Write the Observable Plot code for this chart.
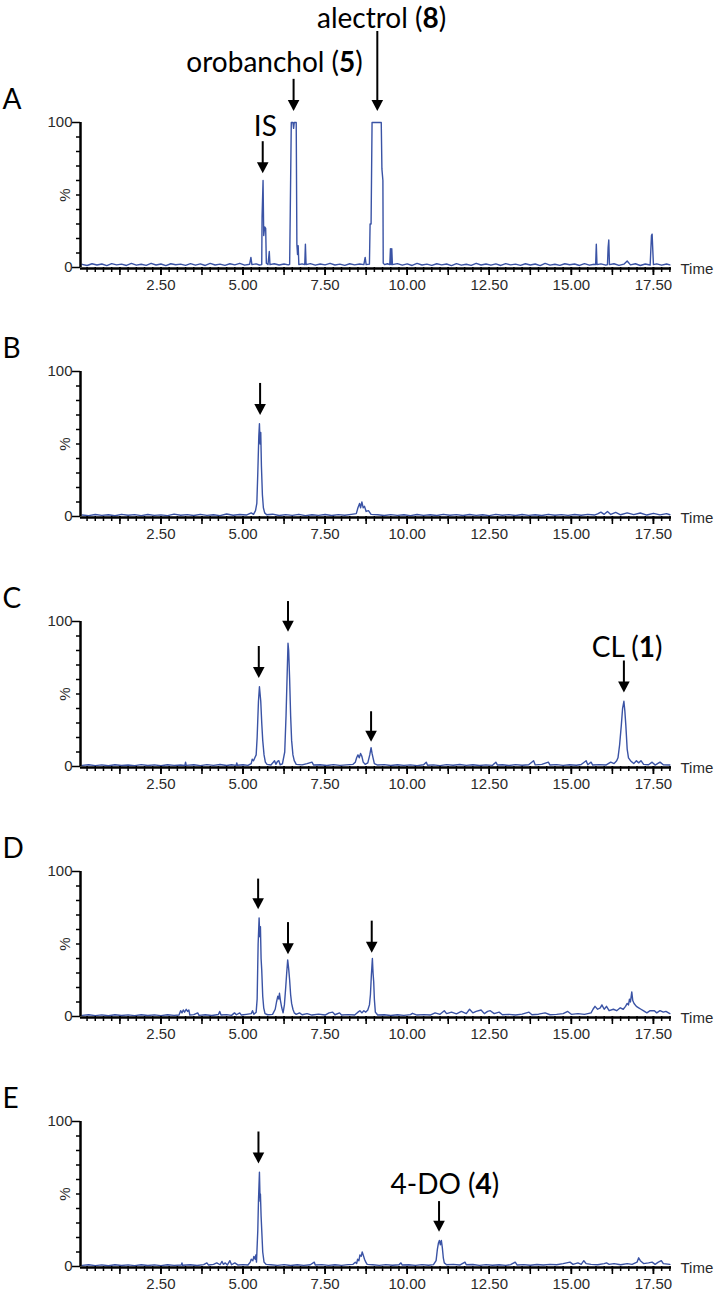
<!DOCTYPE html>
<html>
<head>
<meta charset="utf-8">
<script src="https://cdn.jsdelivr.net/npm/d3@7"></script>
<script src="https://cdn.jsdelivr.net/npm/@observablehq/plot@0.6"></script>
<style>
  html, body { margin: 0; padding: 0; background: #fff; overflow: hidden; }
  #chart svg { display: block; }
</style>
</head>
<body>
<div id="chart"></div>
<script>
// ---- Data (time in min, intensity in %) ----
const traceA = [[0.1,2.2],[0.25,1.4],[0.4,2.6],[0.55,1.7],[0.7,2.4],[0.85,1.3],[1.0,2.7],[1.15,1.8],[1.3,2.3],[1.45,1.4],[1.6,2.8],[1.75,1.6],[1.9,2.2],[2.05,1.5],[2.2,2.9],[2.35,1.7],[2.5,2.4],[2.65,1.3],[2.8,2.6],[2.95,1.9],[3.1,2.3],[3.25,1.5],[3.4,2.7],[3.55,1.6],[3.7,2.5],[3.85,1.4],[4.0,2.8],[4.15,1.7],[4.3,2.3],[4.45,1.5],[4.6,2.6],[4.75,1.8],[4.9,2.9],[5.05,1.6],[5.2,2.2],[5.24,7],[5.27,2],[5.4,2.5],[5.5,1.7],[5.57,2],[5.58,35],[5.61,60],[5.63,22],[5.66,28],[5.69,27],[5.71,3],[5.76,2],[5.8,11],[5.82,2],[5.95,2.6],[6.1,1.7],[6.25,2.4],[6.38,1.8],[6.42,2.2],[6.44,41],[6.47,100],[6.52,100],[6.54,96],[6.56,100],[6.62,100],[6.64,16],[6.66,9],[6.68,15],[6.7,2],[6.8,2.5],[6.88,2],[6.9,16],[6.92,2],[7.05,2.7],[7.2,1.6],[7.35,2.4],[7.5,1.8],[7.65,2.9],[7.8,1.7],[7.95,2.3],[8.1,1.5],[8.25,2.6],[8.4,1.8],[8.55,2.4],[8.68,2],[8.72,7],[8.75,2],[8.85,2.3],[8.87,30],[8.9,30],[8.93,100],[9.21,100],[9.23,68],[9.26,60],[9.27,3],[9.31,2],[9.4,2.6],[9.47,2],[9.49,13],[9.51,2],[9.53,13],[9.55,2],[9.7,2.7],[9.85,1.6],[10.0,2.5],[10.15,1.4],[10.3,2.8],[10.45,1.7],[10.6,2.3],[10.75,1.5],[10.9,2.6],[11.05,1.8],[11.2,2.4],[11.35,1.3],[11.5,2.7],[11.65,1.6],[11.8,2.2],[11.95,1.5],[12.1,2.9],[12.25,1.7],[12.4,2.4],[12.55,1.6],[12.7,2.5],[12.85,1.4],[13.0,2.7],[13.15,1.8],[13.3,2.3],[13.45,1.5],[13.6,2.6],[13.75,1.7],[13.9,2.4],[14.05,1.3],[14.2,2.8],[14.35,1.6],[14.5,2.2],[14.65,1.5],[14.8,2.6],[14.95,1.9],[15.1,2.4],[15.25,1.4],[15.4,2.7],[15.55,1.6],[15.7,2.2],[15.74,2],[15.76,16],[15.78,2],[15.9,2.5],[16.05,1.6],[16.1,2],[16.12,14],[16.14,19],[16.16,2],[16.3,2.6],[16.45,1.5],[16.6,2.3],[16.7,4.5],[16.8,1.8],[16.95,2.6],[17.1,1.4],[17.25,2.4],[17.4,1.7],[17.44,22],[17.46,23],[17.48,12],[17.5,2],[17.6,2.5],[17.75,1.6],[17.9,2.4],[18.0,1.8]];

const traceB = [[0.1,1],[0.3,0.6],[0.5,1.4],[0.7,0.8],[0.9,1.2],[1.1,0.5],[1.3,1.5],[1.5,0.9],[1.7,1.3],[1.9,0.6],[2.1,1.4],[2.3,0.8],[2.5,1.1],[2.7,0.6],[2.9,1.6],[3.1,0.9],[3.3,1.3],[3.5,0.7],[3.7,1.5],[3.9,0.8],[4.1,1.2],[4.3,0.6],[4.5,1.7],[4.7,0.9],[4.9,1.4],[5.1,1],[5.25,2.5],[5.32,1.5],[5.38,4],[5.42,9],[5.45,30],[5.48,55],[5.5,64],[5.52,50],[5.54,58],[5.56,35],[5.59,15],[5.62,6],[5.66,2.5],[5.72,1.2],[5.9,1.6],[6.1,0.7],[6.3,1.3],[6.5,0.8],[6.7,1.5],[6.9,0.6],[7.1,1.2],[7.3,0.8],[7.5,1.4],[7.7,0.7],[7.9,1.3],[8.1,0.9],[8.3,1.5],[8.45,2],[8.5,6],[8.55,9],[8.58,6],[8.62,10],[8.66,6],[8.7,7],[8.75,3.5],[8.82,4],[8.9,1.5],[9.1,1.2],[9.3,0.7],[9.5,1.3],[9.7,0.8],[9.9,1.2],[10.1,0.6],[10.3,1.4],[10.5,0.8],[10.7,1.2],[10.9,0.7],[11.1,1.5],[11.3,0.9],[11.5,1.3],[11.7,0.7],[11.9,1.4],[12.1,0.8],[12.3,1.2],[12.5,0.6],[12.7,1.5],[12.9,0.9],[13.1,1.3],[13.3,0.7],[13.5,1.4],[13.7,0.8],[13.9,1.2],[14.1,0.7],[14.3,1.5],[14.5,0.9],[14.7,1.3],[14.9,0.8],[15.1,1.4],[15.3,0.9],[15.5,1.5],[15.7,1],[15.8,1.8],[15.9,3],[16.0,1.5],[16.1,3.5],[16.2,1.4],[16.35,2.8],[16.5,1.2],[16.7,2.5],[16.9,1.3],[17.1,2.4],[17.3,1],[17.5,2.2],[17.7,1.1],[17.9,2],[18.0,1.2]];

const traceC = [[0.1,0.8],[0.3,1.2],[0.5,0.6],[0.7,1.1],[0.9,0.5],[1.1,1.2],[1.3,0.7],[1.5,1.0],[1.7,0.6],[1.9,1.3],[2.1,0.7],[2.3,1.1],[2.5,0.5],[2.7,1.2],[2.9,0.8],[3.1,1.0],[3.23,0.7],[3.25,3],[3.27,0.8],[3.5,1.2],[3.7,0.6],[3.9,1.3],[4.1,0.8],[4.3,1.4],[4.5,0.7],[4.65,1.2],[4.79,0.8],[4.81,2.5],[4.83,0.9],[5.0,1.2],[5.15,0.8],[5.25,2],[5.28,5],[5.32,4],[5.36,6],[5.4,8],[5.43,20],[5.47,45],[5.5,55],[5.52,50],[5.54,45],[5.57,30],[5.6,18],[5.64,8],[5.68,3],[5.73,1.5],[5.85,1],[5.96,4],[6.0,1.5],[6.05,3.5],[6.09,4],[6.13,1.2],[6.2,1.8],[6.27,10],[6.31,35],[6.34,60],[6.37,85],[6.39,80],[6.42,60],[6.45,35],[6.48,18],[6.52,8],[6.56,4],[6.62,1.5],[6.8,1.1],[6.95,2],[7.1,3],[7.15,1],[7.35,1.2],[7.55,0.7],[7.75,1.3],[7.95,0.8],[8.15,1.1],[8.35,1.5],[8.42,3],[8.46,6],[8.5,8],[8.54,6],[8.58,9],[8.62,7],[8.66,3],[8.72,1.5],[8.8,2.5],[8.86,8],[8.9,13],[8.93,9],[8.96,6],[9.0,2],[9.1,1],[9.3,1.3],[9.5,0.7],[9.7,1.2],[9.9,0.8],[10.1,1.1],[10.3,0.6],[10.5,1.2],[10.58,3],[10.62,0.9],[10.8,1.1],[11.0,0.6],[11.2,1.3],[11.4,0.9],[11.6,1.4],[11.8,0.8],[12.0,1.2],[12.2,0.7],[12.4,1.1],[12.6,0.8],[12.7,3],[12.75,1],[12.9,1.2],[13.1,0.7],[13.3,1.3],[13.5,0.9],[13.7,1.2],[13.85,4],[13.9,1.1],[14.1,1.5],[14.3,3],[14.35,1],[14.55,1.3],[14.75,0.8],[14.95,1.2],[15.15,0.9],[15.3,1.4],[15.45,4],[15.5,1.2],[15.6,3],[15.65,1],[15.85,1.3],[16.05,1],[16.2,3],[16.3,2],[16.38,4],[16.42,6],[16.47,15],[16.52,28],[16.56,40],[16.6,45],[16.63,38],[16.66,28],[16.7,12],[16.74,6],[16.8,4],[16.9,2],[16.98,4],[17.05,2.5],[17.12,4],[17.2,1.5],[17.35,1.2],[17.46,3],[17.55,1],[17.7,3],[17.8,1.2],[18.0,1]];

const traceD = [[0.1,0.8],[0.3,1.2],[0.5,0.6],[0.7,1.1],[0.9,0.5],[1.1,1.2],[1.3,0.7],[1.5,1.1],[1.7,0.6],[1.9,1.2],[2.1,0.7],[2.3,1.1],[2.5,0.6],[2.7,1.2],[2.9,0.8],[3.05,1],[3.1,4],[3.14,2.5],[3.18,4.5],[3.22,3],[3.27,5],[3.31,3.5],[3.35,4.5],[3.38,1],[3.5,1.3],[3.62,2.5],[3.66,0.8],[3.85,1.2],[4.05,0.7],[4.25,1.4],[4.29,3.5],[4.33,1],[4.5,1.3],[4.65,0.8],[4.74,2.5],[4.8,1.2],[4.9,2.5],[4.95,1],[5.1,1.5],[5.25,2],[5.29,4],[5.33,1.5],[5.4,3],[5.43,12],[5.46,50],[5.49,68],[5.51,55],[5.53,62],[5.55,40],[5.57,32],[5.6,14],[5.63,6],[5.67,2],[5.75,1.2],[5.9,1.5],[5.98,5],[6.02,10],[6.06,14],[6.09,12],[6.11,16],[6.14,11],[6.18,6],[6.22,2.5],[6.26,8],[6.3,20],[6.33,30],[6.36,39],[6.39,33],[6.42,25],[6.45,15],[6.48,9],[6.52,5],[6.56,2.5],[6.62,1.5],[6.72,2.5],[6.8,1.2],[6.95,2],[7.1,1],[7.3,1.6],[7.5,1],[7.62,2.5],[7.73,3],[7.8,1.2],[7.94,2.5],[8.0,1],[8.2,1.3],[8.4,1],[8.5,3],[8.56,4],[8.62,2.5],[8.68,4],[8.74,3],[8.8,4.5],[8.85,8],[8.88,15],[8.91,29],[8.94,40],[8.96,30],[8.98,24],[9.0,12],[9.03,3],[9.1,1],[9.3,1.2],[9.5,0.7],[9.7,1.2],[9.9,0.8],[10.1,1.3],[10.16,2.2],[10.3,1],[10.5,1.3],[10.7,1],[10.85,2.5],[11.0,1.5],[11.13,4],[11.2,2],[11.35,3],[11.5,1.8],[11.65,3.5],[11.8,2],[11.9,5],[12.0,2.5],[12.1,3.5],[12.25,4.5],[12.35,2],[12.45,3.5],[12.53,4],[12.65,2],[12.8,3],[12.9,1.2],[13.1,1.5],[13.3,1],[13.5,1.6],[13.71,3],[13.8,1.2],[14.0,1.6],[14.2,2.5],[14.35,1.2],[14.55,1.5],[14.75,2],[14.89,3.5],[15.0,1.5],[15.2,2],[15.4,1.5],[15.6,2.5],[15.66,5],[15.72,7],[15.8,5],[15.88,6],[15.93,8],[16.0,5],[16.07,7],[16.15,4],[16.28,5],[16.38,4],[16.49,6],[16.58,5],[16.65,7],[16.7,9],[16.74,8],[16.77,12],[16.8,10],[16.84,17],[16.87,11],[16.91,9],[16.98,7],[17.05,6],[17.12,5],[17.19,4],[17.3,2.5],[17.4,4],[17.53,4],[17.6,2.5],[17.7,4],[17.8,3],[17.88,3.5],[18.0,2]];

const traceE = [[0.1,0.8],[0.3,1.2],[0.5,0.6],[0.7,1.1],[0.9,0.5],[1.1,1.2],[1.3,0.7],[1.5,1.1],[1.7,0.6],[1.9,1.2],[2.1,0.7],[2.3,1.1],[2.5,0.6],[2.7,1.2],[2.9,0.8],[3.12,1],[3.14,2.5],[3.16,0.9],[3.4,1.2],[3.6,0.7],[3.8,1.3],[3.9,2.5],[3.95,1],[4.1,1.5],[4.2,2.5],[4.3,1.2],[4.36,3.5],[4.4,1.5],[4.46,2.5],[4.52,1],[4.6,4],[4.65,1.2],[4.75,2.5],[4.85,1],[5.0,1.3],[5.15,1],[5.22,3],[5.25,5],[5.3,4],[5.33,7],[5.37,5],[5.39,8],[5.41,3],[5.45,25],[5.47,45],[5.5,65],[5.52,45],[5.53,50],[5.55,35],[5.58,20],[5.6,10],[5.64,3],[5.7,1.5],[5.85,1.2],[6.05,0.8],[6.25,1.3],[6.45,0.7],[6.65,1.2],[6.85,0.8],[7.05,1.2],[7.17,3],[7.2,1],[7.4,1.3],[7.6,0.8],[7.8,1.2],[8.0,0.8],[8.2,1.3],[8.35,1.5],[8.42,3],[8.46,2],[8.49,5],[8.53,4],[8.56,8],[8.6,7],[8.63,10],[8.66,8],[8.7,5],[8.74,3],[8.78,1.5],[8.95,1.2],[9.15,0.8],[9.35,1.3],[9.55,0.9],[9.75,1.2],[9.81,2.5],[9.85,1],[10.05,1.2],[10.25,0.8],[10.45,1.3],[10.65,0.9],[10.8,1.3],[10.88,4],[10.92,12],[10.95,16],[10.98,18],[11.01,15],[11.04,18],[11.07,13],[11.1,6],[11.13,2.5],[11.2,1.2],[11.4,1.5],[11.6,1],[11.76,3],[11.8,1.2],[12.0,1.4],[12.2,0.8],[12.4,1.3],[12.6,0.9],[12.8,1.2],[13.0,0.8],[13.15,1.3],[13.29,3],[13.35,1],[13.55,1.3],[13.75,0.9],[13.95,1.4],[14.15,1],[14.35,1.5],[14.55,1.2],[14.75,2],[14.96,3],[15.05,1.5],[15.2,2.5],[15.3,1.5],[15.38,4],[15.45,2],[15.6,1.5],[15.8,1.2],[16.0,2],[16.07,2.5],[16.15,1.5],[16.3,2],[16.5,1.2],[16.7,2],[16.85,1.5],[17.0,3],[17.05,6],[17.1,4],[17.2,2],[17.35,2.5],[17.46,3],[17.55,1.5],[17.65,3],[17.74,4],[17.8,2],[18.0,1.5]];

// Arrows: time, shaft top (%), arrow tip (%)
const arrowsA = [{t:5.6, top:84, tip:65},{t:6.54, top:127, tip:108},{t:9.09, top:160, tip:108}];
const arrowsB = [{t:5.52, top:89, tip:70}];
const arrowsC = [{t:5.48, top:80, tip:61},{t:6.37, top:111, tip:93},{t:8.9, top:35, tip:17},{t:16.6, top:70, tip:51}];
const arrowsD = [{t:5.46, top:92, tip:74},{t:6.37, top:62, tip:43},{t:8.92, top:63, tip:44}];
const arrowsE = [{t:5.47, top:90, tip:71},{t:10.97, top:42, tip:24}];

// Peak labels: time, baseline (%), text
const labelsA = [{t:9.22, v:165.3, s:"alectrol (8)"},{t:5.96, v:134.5, s:"orobanchol (5)"},{t:5.68, v:91, s:"IS"}];
const labelsB = [];
const labelsC = [{t:16.7, v:75.5, s:"CL (1)"}];
const labelsD = [];
const labelsE = [{t:11.15, v:49.7, s:"4-DO (4)"}];

const panelLetters = ["A","B","C","D","E"];
const xLabelTicks = [2.5, 5, 7.5, 10, 12.5, 15, 17.5];
const yLabelTicks = [0, 100];
const axisTitleX = "Time";
const axisTitleY = "%";

// ---- Drawing ----
const xDomain = [0.05, 18.05];
const minorX = d3.range(0.25, 18.01, 0.25);
const midX = d3.range(1.25, 18.01, 1.25);
const minorY = d3.range(10, 100, 10);
const lineColor = "#3A53A5";
const annotFont = "Lato, 'Open Sans', sans-serif";

const downTriangle = {
  draw(ctx) { ctx.moveTo(0, 0); ctx.lineTo(-5.8, -11); ctx.lineTo(5.8, -11); ctx.closePath(); }
};

const panels = [
  {trace: traceA, arrows: arrowsA, labels: labelsA, height: 300, marginTop: 122},
  {trace: traceB, arrows: arrowsB, labels: labelsB, height: 250, marginTop: 71},
  {trace: traceC, arrows: arrowsC, labels: labelsC, height: 250, marginTop: 71},
  {trace: traceD, arrows: arrowsD, labels: labelsD, height: 250, marginTop: 71},
  {trace: traceE, arrows: arrowsE, labels: labelsE, height: 241, marginTop: 71}
];

const chart = document.getElementById("chart");
panels.forEach((p, i) => {
  const svg = Plot.plot({
    width: 715,
    height: p.height,
    marginTop: p.marginTop,
    marginBottom: p.height - p.marginTop - 145,
    marginLeft: 80,
    marginRight: 44,
    x: {domain: xDomain},
    y: {domain: [0, 100]},
    style: {fontFamily: "'Liberation Sans', Arial, sans-serif", fontSize: "15px", color: "#000", background: "#fff", overflow: "visible"},
    marks: [
      Plot.line(p.trace, {x: d => d[0], y: d => d[1], stroke: lineColor, strokeWidth: 1.4}),
      // y axis
      Plot.axisY({ticks: minorY, tickSize: 4, fill: "none", strokeWidth: 1.5, label: null}),
      Plot.axisY({ticks: yLabelTicks, tickSize: 8, tickPadding: 0, tickFormat: d => String(d), fill: "#2a2a2a", strokeWidth: 1.5, label: null, fontSize: 15}),
      Plot.text([{t: xDomain[0], v: 50, s: axisTitleY}], {x: "t", y: "v", text: "s", rotate: -90, dx: -15, fill: "#2a2a2a", fontSize: 15}),
      Plot.ruleX([xDomain[0]], {y1: 0, y2: 100, strokeWidth: 2.5, stroke: "#000"}),
      // x axis
      Plot.axisX({ticks: minorX, tickSize: 5, fill: "none", strokeWidth: 1.5, label: null}),
      Plot.axisX({ticks: midX, tickSize: 8, fill: "none", strokeWidth: 1.5, label: null}),
      Plot.axisX({ticks: xLabelTicks, tickSize: 8, tickPadding: 4, tickFormat: d3.format(".2f"), fill: "#2a2a2a", strokeWidth: 1.5, label: null, fontSize: 15}),
      Plot.ruleY([0], {strokeWidth: 2.5, stroke: "#000", dy: 1}),
      Plot.text([{t: xDomain[1], v: 0, s: axisTitleX}], {x: "t", y: "v", text: "s", textAnchor: "start", dx: 9, dy: 2, fill: "#2a2a2a", fontSize: 15}),
      // arrows
      Plot.ruleX(p.arrows, {x: "t", y1: "top", y2: "tip", stroke: "#000", strokeWidth: 2, dy: -4}),
      Plot.dot(p.arrows, {x: "t", y: "tip", symbol: downTriangle, fill: "#000", stroke: "none"}),
      // labels
      Plot.text(p.labels, {x: "t", y: "v", text: "s", lineAnchor: "bottom", fontFamily: annotFont, fontSize: 28, fill: "#000"}),
      // panel letter
      Plot.text([{s: panelLetters[i]}], {frameAnchor: "top-left", text: "s", dx: -78, dy: -14, textAnchor: "start", lineAnchor: "bottom", fontFamily: annotFont, fontSize: 28, fill: "#000"})
    ]
  });
  // bold compound numbers inside parentheses
  svg.querySelectorAll("text").forEach(t => {
    const m = t.textContent.match(/^(.*\()(\d+)(\))$/);
    if (m && t.childElementCount === 0) {
      t.textContent = "";
      const ns = "http://www.w3.org/2000/svg";
      [[m[1], null], [m[2], "bold"], [m[3], null]].forEach(([s, w]) => {
        const ts = document.createElementNS(ns, "tspan");
        ts.textContent = s;
        if (w) ts.setAttribute("font-weight", w);
        t.appendChild(ts);
      });
    }
  });
  chart.appendChild(svg);
});
</script>
</body>
</html>
